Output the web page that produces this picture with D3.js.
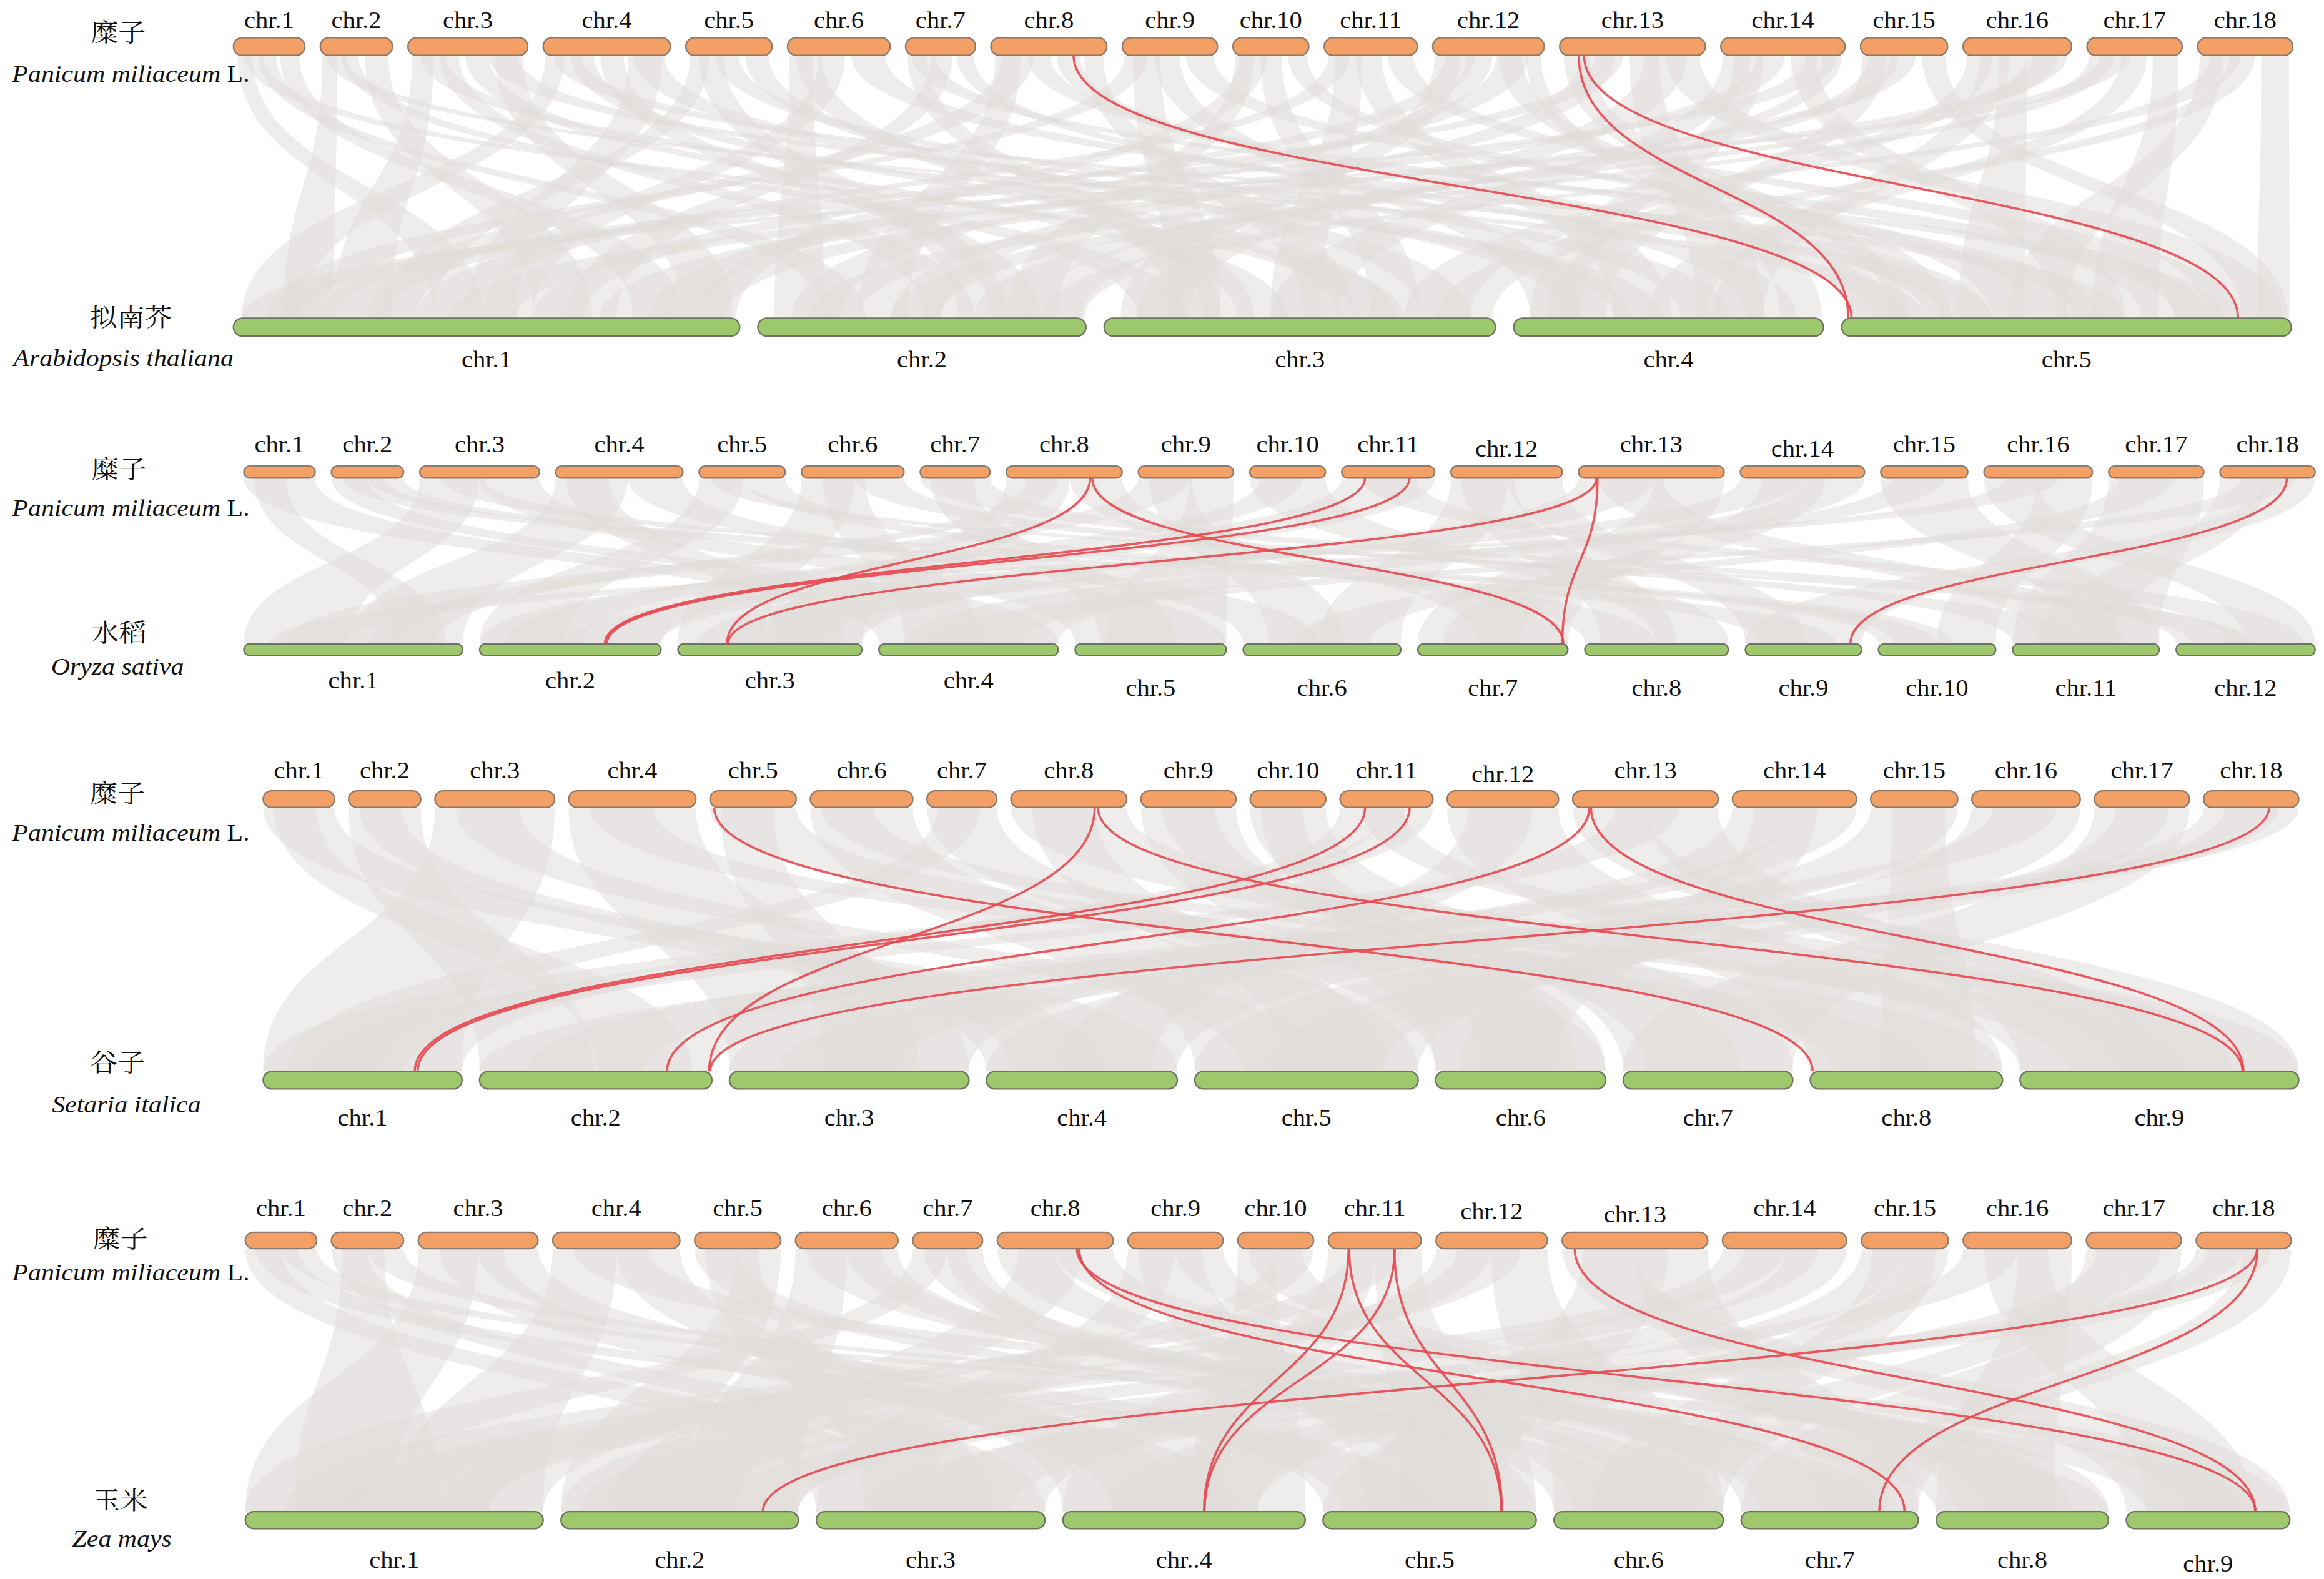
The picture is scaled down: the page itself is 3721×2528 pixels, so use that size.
<!DOCTYPE html>
<html>
<head>
<meta charset="utf-8">
<script src="https://cdn.jsdelivr.net/npm/d3@7"></script>
<style>
  body { margin: 0; background: #fff; }
  text { font-family: "Liberation Serif", "Times New Roman", serif; fill: #111; }
  .cn { font-family: "Noto Serif CJK SC", "Noto Sans CJK SC", sans-serif; }
</style>
</head>
<body>
<div id="chart"></div>
<script>
// broomcorn millet (top track in every panel), lengths in Mb
const pmNames = ["chr.1","chr.2","chr.3","chr.4","chr.5","chr.6","chr.7","chr.8","chr.9",
                 "chr.10","chr.11","chr.12","chr.13","chr.14","chr.15","chr.16","chr.17","chr.18"];
const pmLen = [33.6, 34.0, 56.4, 59.9, 40.6, 48.3, 32.9, 54.6, 44.8, 35.7, 43.8, 52.5, 68.6, 58.5, 41.0, 51.1, 44.8, 44.8];

// partner genomes (bottom tracks)
const atNames = ["chr.1","chr.2","chr.3","chr.4","chr.5"];
const atLen = [30.4, 19.7, 23.5, 18.6, 27.0];
const osNames = ["chr.1","chr.2","chr.3","chr.4","chr.5","chr.6","chr.7","chr.8","chr.9","chr.10","chr.11","chr.12"];
const osLen = [43.3, 35.9, 36.4, 35.5, 29.9, 31.2, 29.7, 28.4, 23.0, 23.2, 29.0, 27.5];
const siNames = ["chr.1","chr.2","chr.3","chr.4","chr.5","chr.6","chr.7","chr.8","chr.9"];
const siLen = [42.1, 49.2, 50.7, 40.4, 47.3, 36.0, 35.9, 40.7, 59.0];
const zmNames = ["chr.1","chr.2","chr.3","chr..4","chr.5","chr.6","chr.7","chr.8","chr.9"];
const zmLen = [306, 244, 235, 249, 219, 174, 182, 177, 168];

const pmCn = "糜子";
const pmLatin = "Panicum miliaceum";
const pmAuthor = " L.";
const partnerCn = ["拟南芥", "水稻", "谷子", "玉米"];
const partnerLatin = ["Arabidopsis thaliana", "Oryza sativa", "Setaria italica", "Zea mays"];

// collinear blocks: [pmChr, pmStart, pmEnd, otherChr, otherStart, otherEnd]
const atBlocks = [
  [1,2,9,1,12,15],[1,12,20,2,4,6.5],[1,22,31,1,24,27],
  [2,1,8,1,3,6],[2,10,18,3,2,5],[2,21,32,1,18,21.5],
  [3,2,12,1,6,9.5],[3,15,24,2,10,13],[3,27,38,3,8,11],[3,41,54,1,27,30],
  [4,1,10,1,0.5,4],[4,13,24,3,14,17.5],[4,27,38,2,14,17],[4,42,57,4,3,7],
  [5,2,11,1,9,12],[5,14,25,4,10,13],[5,28,39,3,19,22],
  [6,1,12,2,1,4],[6,15,27,1,15,18],[6,30,46,5,5,9],
  [7,1,10,3,4,7],[7,12,22,1,20,23],[7,24,32,4,14,17],
  [8,2,14,2,6,9],[8,17,28,5,12,15.5],[8,31,42,5,0.5,3.5],[8,44,53,3,12,15],
  [9,1,12,1,2,5],[9,15,27,4,1,4],[9,30,43,5,18,22],
  [10,1,10,2,15,18],[10,13,23,3,16,19],[10,26,35,5,9,12],
  [11,2,12,1,11,14],[11,15,27,4,6,9.5],[11,30,42,5,20,24],
  [12,1,13,3,1,4.5],[12,16,28,2,2,5],[12,31,42,5,3,6.5],[12,44,51,4,16,18.5],
  [13,2,14,5,0.3,4],[13,17,30,1,5,9],[13,33,47,4,11,15],[13,50,66,5,22,26.5],
  [14,1,14,3,10,14],[14,17,30,1,22,26],[14,33,45,5,13,17],[14,48,57,2,16,19.5],
  [15,1,12,4,2,5.5],[15,14,26,1,26,29.5],[15,29,40,5,24,26.8],
  [16,2,14,3,18,22],[16,17,30,5,7,11],[16,33,49,1,13,17],
  [17,1,13,2,8,11],[17,16,28,4,8,11.5],[17,31,43,5,15,19],
  [18,1,12,5,10,13.5],[18,15,27,3,20,23.3],[18,30,43,5,25,26.9],
  [1,5,14,3,15,18],[2,3,12,5,2,5],[3,6,18,4,6,9],[4,5,18,5,14,17],[5,6,18,2,12,15],
  [6,4,16,3,6,9],[7,3,14,5,20,23],[8,5,20,1,8,11],[9,5,18,3,4,7],[10,3,16,1,28,30.2],
  [11,5,18,3,10,13],[12,6,20,1,18,21],[13,10,26,2,8,11],[14,6,20,4,1,4],[15,4,18,2,13,16],
  [16,8,22,4,12,15],[17,6,20,1,0.5,3.5],[18,6,20,2,17,19.6],[3,38,52,5,6,9],[4,40,56,1,14,17],
  [13,40,60,3,2,5],[14,40,55,1,3,6],[12,30,45,1,25,28],[16,30,45,2,3,6]
];
const osBlocks = [
  [1,0,33.6,4,0,17.5],[2,0,17,4,17.5,35.5],[2,17,34.0,10,0,11.5],
  [3,0,28,1,0,21],[3,28,56.4,5,0,29.9],[4,0,34,1,21,43.3],[4,34,59.9,6,0,15],
  [5,0,21,2,0,17],[5,21,40.6,8,0,14],[6,0,25,3,0,17],[6,25,48.3,11,0,14],
  [7,0,32.9,12,0,13.5],[8,0,30,3,17,36.4],[8,30,54.6,7,12,29.7],
  [9,0,24,1,8,30],[9,24,44.8,5,6,29.9],[10,0,35.7,8,14,28.4],[11,0,43.8,2,0,35.9],
  [12,0,27,6,15,31.2],[12,27,52.5,9,0,12],[13,0,36,3,4,36.4],[13,36,68.6,7,0,29.7],
  [14,0,30,2,17,35.9],[14,30,58.5,4,5,35.5],[15,0,41.0,11,14,29],
  [16,0,25,12,13.5,27.5],[16,25,51.1,10,11.5,23.2],[17,0,44.8,11,0,29],
  [18,0,22,11,5,20],[18,22,44.8,9,0,23],
  [1,5,20,1,30,40],[3,10,30,10,3,15],[4,5,25,3,20,33],[5,5,20,12,3,15],[6,10,30,4,5,20],
  [7,5,25,5,5,20],[8,10,25,1,25,38],[9,5,25,6,5,20],[10,5,25,2,5,20],[12,5,30,8,3,18],
  [13,10,40,11,5,22],[14,10,40,7,5,20],[15,5,30,3,10,28],[16,10,35,1,5,20],[17,5,30,6,10,25],
  [18,10,35,4,10,28],[2,5,25,9,3,18],[11,10,35,12,10,25]
];
const siBlocks = [
  [3,0,28,1,0,21],[3,28,56.4,1,21,42.1],[11,0,22,1,21,42.1],[11,22,43.8,1,0,21],
  [2,0,34.0,2,0,24],[18,0,22,2,24,49.2],[18,22,44.8,2,0,24],
  [4,0,30,3,0,25],[4,30,59.9,3,25,50.7],[14,0,29,3,25,50.7],[14,29,58.5,3,0,25],
  [1,0,33.6,4,0,40.4],[15,0,41.0,4,0,40.4],
  [6,0,24,5,0,23],[6,24,48.3,5,23,47.3],[16,0,51.1,5,0,47.3],
  [9,0,44.8,6,0,36],[7,0,32.9,6,0,36],
  [10,0,35.7,7,0,35.9],[17,0,22,7,0,18],[17,22,44.8,7,18,35.9],
  [5,0,40.6,8,0,40.7],[12,0,26,8,0,20],[12,26,52.5,8,20,40.7],
  [13,0,34,9,30,59],[13,34,68.6,9,0,30],[8,0,27,9,0,28],[8,27,54.6,9,28,59],
  [1,5,25,2,25,45],[2,5,25,4,5,25],[3,10,40,5,10,30],[4,10,40,8,5,25],[5,5,30,3,20,40],
  [6,5,30,9,10,35],[7,5,25,1,5,25],[9,10,35,7,5,25],[10,5,25,6,10,30],[12,10,40,4,15,35],
  [14,10,40,6,5,25],[15,10,35,8,15,35],[16,10,40,2,10,35],[17,10,35,5,15,40],[18,10,35,3,10,35],
  [13,20,50,1,10,30],[11,10,30,9,20,45],[8,10,40,5,20,40]
];
const zmBlocks = [
  [1,0,17,3,0,120],[1,17,33.6,8,0,100],[2,0,17,3,120,235],[2,17,34.0,8,100,177],
  [3,0,28,1,0,150],[3,28,56.4,5,0,110],[4,0,30,1,150,306],[4,30,59.9,4,0,130],
  [5,0,20,6,0,90],[5,20,40.6,2,0,120],[6,0,24,2,120,244],[6,24,48.3,6,90,174],
  [7,0,16,1,0,120],[7,16,32.9,5,110,219],[8,0,27,7,0,110],[8,27,54.6,9,60,168],
  [9,0,22,3,0,110],[9,22,44.8,8,50,177],[10,0,18,4,130,249],[10,18,35.7,1,200,306],
  [11,0,22,4,0,160],[11,22,43.8,5,80,219],[12,0,26,2,0,130],[12,26,52.5,6,0,174],
  [13,0,34,9,0,168],[13,34,68.6,7,80,182],[14,0,30,1,100,250],[14,30,58.5,3,100,235],
  [15,0,20,4,50,200],[15,20,41.0,5,0,130],[16,0,26,2,100,244],[16,26,51.1,8,0,120],
  [17,0,22,6,40,174],[17,22,44.8,7,0,150],[18,0,22,2,150,244],[18,22,44.8,7,100,182],
  [1,5,25,5,20,120],[2,5,25,1,50,200],[3,10,40,4,50,180],[4,10,45,9,20,120],[5,5,30,3,50,180],
  [6,5,40,7,20,140],[7,5,25,6,20,120],[8,10,40,2,50,180],[9,5,35,5,50,170],[10,5,30,8,20,140],
  [12,10,40,1,100,250],[14,10,45,2,20,150],[15,5,35,6,40,150],[16,10,40,9,20,130],
  [17,5,35,4,60,200],[18,5,35,3,50,200],[13,10,50,5,40,180],[11,10,35,1,40,180]
];

// highlighted gene pairs: [pmChr, pmPos, otherChr, otherPos]
const atRed = [[8,38.9,5,0.6],[13,9.0,5,0.4],[13,11.5,5,23.8]];
const osRed = [[8,39.5,3,9.7],[8,40.5,7,28.8],[11,11.0,2,24.8],[11,32.0,2,25.2],
               [13,8.5,3,9.9],[13,9.0,7,28.6],[18,31.5,9,20.8]];
const siRed = [[5,2.0,8,0.5],[8,39.5,2,48.6],[8,41.0,9,47.1],[11,11.8,1,32.1],[11,32.8,1,32.7],
               [13,7.9,2,39.7],[13,8.6,9,47.3],[18,30.8,2,48.8]];
const zmRed = [[8,37.5,9,132.8],[8,38.5,7,167.9],[11,9.6,4,145.0],[11,9.8,5,183.2],
               [11,31.3,4,145.5],[11,31.1,5,183.8],[13,5.9,9,132.5],[18,28.7,2,207.3],[18,28.9,7,141.9]];

// layout (drawing units, svg is scaled up to the window)
const W = 1563, H = 1062;
const panels = [
  { names: atNames, len: atLen, blocks: atBlocks, red: atRed,
    top: { x0: 157, x1: 1542, gap: 10.4, cy: 31.3, h: 12, ly: 19, ldy: [] },
    bot: { x0: 157, x1: 1541, gap: 12.25, cy: 220, h: 12, ly: 247, ldy: [] },
    cn: [79.5, 21.6], latin: [88, 55], pcn: [88, 213], plat: [83, 246] },
  { names: osNames, len: osLen, blocks: osBlocks, red: osRed,
    top: { x0: 164, x1: 1557, gap: 10.9, cy: 317.5, h: 8, ly: 304, ldy: [0,0,0,0,0,0,0,0,0,0,0,3,0,3] },
    bot: { x0: 164, x1: 1557, gap: 11.4, cy: 437, h: 8, ly: 463, ldy: [0,0,0,0,5,5,5,5,5,5,5,5] },
    cn: [80, 315], latin: [88, 347], pcn: [80, 425], plat: [79, 453.5] },
  { names: siNames, len: siLen, blocks: siBlocks, red: siRed,
    top: { x0: 177, x1: 1546, gap: 9.5, cy: 537.5, h: 11.2, ly: 523.5, ldy: [0,0,0,0,0,0,0,0,0,0,0,2.5] },
    bot: { x0: 177, x1: 1546, gap: 11.75, cy: 726.5, h: 11.8, ly: 757, ldy: [] },
    cn: [79, 533], latin: [88, 565.5], pcn: [79, 714], plat: [85, 748] },
  { names: zmNames, len: zmLen, blocks: zmBlocks, red: zmRed,
    top: { x0: 165, x1: 1541, gap: 9.9, cy: 834.3, h: 11, ly: 818, ldy: [0,0,0,0,0,0,0,0,0,0,0,2,4] },
    bot: { x0: 165, x1: 1540, gap: 12, cy: 1022.4, h: 11.4, ly: 1054.5, ldy: [0,0,0,0,0,0,0,0,2.5] },
    cn: [81, 832.5], latin: [88, 861], pcn: [81, 1008.5], plat: [82, 1040] }
];

const SX = 1.1;
const svg = d3.select("#chart").append("svg")
  .attr("width", 3721).attr("height", 2528)
  .attr("viewBox", `0 0 ${W} ${H}`)
  .attr("preserveAspectRatio", "none");

// one linear scale per chromosome, laid out left to right with gaps
function trackScales(lengths, t) {
  const k = (t.x1 - t.x0 - t.gap * (lengths.length - 1)) / d3.sum(lengths);
  let x = t.x0;
  return lengths.map(l => {
    const s = d3.scaleLinear().domain([0, l]).range([x, x + l * k]);
    x += l * k + t.gap;
    return s;
  });
}

function ribbonPath(a0, a1, ay, b0, b1, by) {
  const my = (ay + by) / 2;
  const p = d3.path();
  p.moveTo(a0, ay);
  p.bezierCurveTo(a0, my, b0, my, b0, by);
  p.lineTo(b1, by);
  p.bezierCurveTo(b1, my, a1, my, a1, ay);
  p.closePath();
  return p.toString();
}

const link = d3.linkVertical().x(d => d[0]).y(d => d[1]);

function drawTrack(g, scales, names, t, fill, stroke) {
  g.append("g").selectAll("rect").data(scales).join("rect")
    .attr("x", s => s.range()[0])
    .attr("y", t.cy - t.h / 2)
    .attr("width", s => s.range()[1] - s.range()[0])
    .attr("height", t.h)
    .attr("rx", t.h / 2)
    .attr("fill", fill)
    .attr("stroke", stroke)
    .attr("stroke-width", 1);
  g.append("g").selectAll("text").data(scales).join("text")
    .attr("transform", (s, i) => `translate(${(s.range()[0] + s.range()[1]) / 2},${t.ly + (t.ldy[i] || 0)}) scale(${SX},1)`)
    .attr("text-anchor", "middle")
    .attr("font-size", 15.5)
    .text((s, i) => names[i]);
}

panels.forEach((p, pi) => {
  const g = svg.append("g");
  const topS = trackScales(pmLen, p.top);
  const botS = trackScales(p.len, p.bot);
  const ay = p.top.cy + p.top.h / 2;
  const by = p.bot.cy - p.bot.h / 2;

  g.append("g").selectAll("path").data(p.blocks).join("path")
    .attr("d", b => ribbonPath(topS[b[0] - 1](b[1]), topS[b[0] - 1](b[2]), ay,
                               botS[b[3] - 1](b[4]), botS[b[3] - 1](b[5]), by))
    .attr("fill", "#e0dcda")
    .attr("fill-opacity", 0.5);

  g.append("g").selectAll("path").data(p.red).join("path")
    .attr("d", r => link({ source: [topS[r[0] - 1](r[1]), ay], target: [botS[r[2] - 1](r[3]), by] }))
    .attr("fill", "none")
    .attr("stroke", "#e8474f")
    .attr("stroke-opacity", 0.9)
    .attr("stroke-width", 1.5);

  drawTrack(g, topS, pmNames, p.top, "#f3a066", "#8f7b6d");
  drawTrack(g, botS, p.names, p.bot, "#9dc96c", "#6e7460");

  // species names
  const cnSize = 16.5;
  g.append("text").attr("class", "cn")
    .attr("transform", `translate(${p.cn[0]},${p.cn[1] + cnSize * 0.38}) scale(1.12,1)`)
    .attr("text-anchor", "middle").attr("font-size", cnSize).text(pmCn);
  const lt = g.append("text")
    .attr("transform", `translate(${p.latin[0]},${p.latin[1]}) scale(${SX},1)`)
    .attr("text-anchor", "middle").attr("font-size", 16);
  lt.append("tspan").attr("font-style", "italic").text(pmLatin);
  lt.append("tspan").text(pmAuthor);
  g.append("text").attr("class", "cn")
    .attr("transform", `translate(${p.pcn[0]},${p.pcn[1] + cnSize * 0.38}) scale(1.12,1)`)
    .attr("text-anchor", "middle").attr("font-size", cnSize).text(partnerCn[pi]);
  g.append("text")
    .attr("transform", `translate(${p.plat[0]},${p.plat[1]}) scale(${SX},1)`)
    .attr("text-anchor", "middle").attr("font-size", 16).attr("font-style", "italic")
    .text(partnerLatin[pi]);
});
</script>
</body>
</html>
